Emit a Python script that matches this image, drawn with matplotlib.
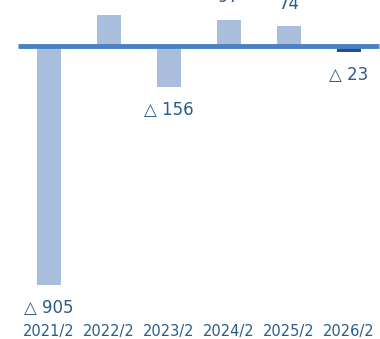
import matplotlib
matplotlib.use("Agg")
import matplotlib.pyplot as plt

# fiscal years and change values (triangle = negative)
years = ["2021/2", "2022/2", "2023/2", "2024/2", "2025/2", "2026/2"]
values = [-905, 117, -156, 97, 74, -23]
highlight = [False, False, False, False, False, True]

light = "#a9bedc"
dark = "#1f4f8f"
line_col = "#4a80c4"
text_col = "#2b5c8a"

fig = plt.figure(figsize=(3.8, 3.39), dpi=100)
ax = fig.add_axes([0, 19 / 339, 1, 320 / 339])

x = list(range(len(years)))
colors = [dark if h else light for h in highlight]
bars = ax.bar(x, values, width=0.4, color=colors, zorder=2)
ax.hlines(0, -0.52, 5.5, color=line_col, lw=3.5, zorder=3)

for xi, v in zip(x, values):
    if v >= 0:
        label = f"{v}"
        ax.annotate(label, (xi, v), xytext=(0, 10), textcoords="offset points",
                    ha="center", va="bottom", fontsize=12, color=text_col)
    else:
        label = f"\u25b3 {abs(v)}"
        ax.annotate(label, (xi, v), xytext=(0, -10), textcoords="offset points",
                    ha="center", va="top", fontsize=12, color=text_col)

ax.set_xlim(-0.817, 5.517)
ax.set_ylim(-1038, 174)
ax.set_xticks(x)
ax.set_xticklabels(years, fontsize=10.5, color=text_col)
ax.tick_params(axis="x", length=0, pad=3)
ax.set_yticks([])
for s in ax.spines.values():
    s.set_visible(False)

fig.savefig("out.png", dpi=100)
